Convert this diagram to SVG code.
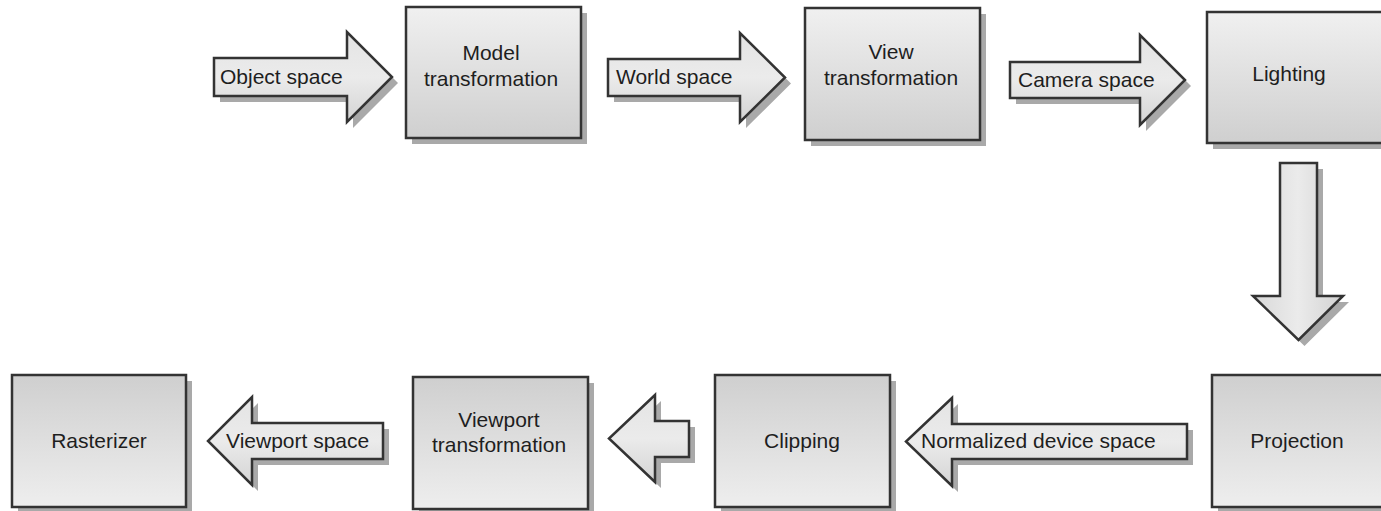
<svg xmlns="http://www.w3.org/2000/svg" width="1381" height="511" viewBox="0 0 1381 511">
  <defs>
    <linearGradient id="gTop" x1="0" y1="0" x2="0" y2="1">
      <stop offset="0" stop-color="#f0f0f0"/>
      <stop offset="1" stop-color="#cfcfcf"/>
    </linearGradient>
    <linearGradient id="gBot" x1="0" y1="0" x2="0" y2="1">
      <stop offset="0" stop-color="#cfcfcf"/>
      <stop offset="1" stop-color="#eeeeee"/>
    </linearGradient>
    <linearGradient id="gArrH" x1="0" y1="0" x2="0" y2="1">
      <stop offset="0" stop-color="#e4e4e4"/>
      <stop offset="0.5" stop-color="#ebebeb"/>
      <stop offset="1" stop-color="#d4d4d4"/>
    </linearGradient>
    <linearGradient id="gArrV" x1="0" y1="0" x2="1" y2="0">
      <stop offset="0" stop-color="#d8d8d8"/>
      <stop offset="0.5" stop-color="#ebebeb"/>
      <stop offset="1" stop-color="#d2d2d2"/>
    </linearGradient>
    <filter id="soft" x="-10%" y="-10%" width="120%" height="120%">
      <feGaussianBlur stdDeviation="0.5"/>
    </filter>
  </defs>
  <style>
    .shadow { fill: #a9a9a9; filter: url(#soft); }
    .boxTop { fill: url(#gTop); stroke: #333333; stroke-width: 2.5; }
    .boxBot { fill: url(#gBot); stroke: #333333; stroke-width: 2.5; }
    .arrH { fill: url(#gArrH); stroke: #333333; stroke-width: 2.5; stroke-linejoin: miter; }
    .arrV { fill: url(#gArrV); stroke: #333333; stroke-width: 2.5; stroke-linejoin: miter; }
    text { font-family: "Liberation Sans", Arial, sans-serif; font-size: 21px; fill: #1e1e1e; }
    .c { text-anchor: middle; }
  </style>
  <rect width="1381" height="511" fill="#ffffff"/>

  <g id="connectors">
    <g id="arrow-object-space">
      <path class="shadow" transform="translate(6,6)" d="M214,58 H347 V32 L392,77 L347,122 V96 H214 Z"/>
      <path class="arrH" d="M214,58 H347 V32 L392,77 L347,122 V96 H214 Z"/>
      <text x="220" y="84">Object space</text>
    </g>
    <g id="arrow-world-space">
      <path class="shadow" transform="translate(6,6)" d="M608,59 H740 V33 L785,77.5 L740,122 V96 H608 Z"/>
      <path class="arrH" d="M608,59 H740 V33 L785,77.5 L740,122 V96 H608 Z"/>
      <text x="616" y="84">World space</text>
    </g>
    <g id="arrow-camera-space">
      <path class="shadow" transform="translate(6,6)" d="M1010,62 H1140 V35 L1185,80 L1140,125 V98 H1010 Z"/>
      <path class="arrH" d="M1010,62 H1140 V35 L1185,80 L1140,125 V98 H1010 Z"/>
      <text x="1018" y="87">Camera space</text>
    </g>
    <g id="arrow-down">
      <path class="shadow" transform="translate(6,6)" d="M1280,163 H1317 V296 H1343 L1298.5,340 L1253,296 H1280 Z"/>
      <path class="arrV" d="M1280,163 H1317 V296 H1343 L1298.5,340 L1253,296 H1280 Z"/>
    </g>
    <g id="arrow-normalized-device-space">
      <path class="shadow" transform="translate(6,6)" d="M1187,424 H952 V398 L906,441.5 L952,486 V459 H1187 Z"/>
      <path class="arrH" d="M1187,424 H952 V398 L906,441.5 L952,486 V459 H1187 Z"/>
      <text x="921" y="448">Normalized device space</text>
    </g>
    <g id="arrow-clip-to-viewport">
      <path class="shadow" transform="translate(6,6)" d="M689,421 H655 V395 L609,438.5 L655,482 V457 H689 Z"/>
      <path class="arrH" d="M689,421 H655 V395 L609,438.5 L655,482 V457 H689 Z"/>
    </g>
    <g id="arrow-viewport-space">
      <path class="shadow" transform="translate(6,6)" d="M383,423 H252 V397 L208,441 L252,485 V459 H383 Z"/>
      <path class="arrH" d="M383,423 H252 V397 L208,441 L252,485 V459 H383 Z"/>
      <text x="226" y="448">Viewport space</text>
    </g>
  </g>

  <g id="node-model">
    <rect class="shadow" x="412" y="13" width="175" height="131"/>
    <rect class="boxTop" x="406" y="7" width="175" height="131"/>
    <text class="c" x="491" y="60">Model</text>
    <text class="c" x="491" y="86">transformation</text>
  </g>
  <g id="node-view">
    <rect class="shadow" x="811" y="14" width="175" height="132"/>
    <rect class="boxTop" x="805" y="8" width="175" height="132"/>
    <text class="c" x="891" y="59">View</text>
    <text class="c" x="891" y="85">transformation</text>
  </g>
  <g id="node-lighting">
    <rect class="shadow" x="1213" y="18" width="175" height="131"/>
    <rect class="boxTop" x="1207" y="12" width="176" height="131"/>
    <text class="c" x="1289" y="81">Lighting</text>
  </g>
  <g id="node-projection">
    <rect class="shadow" x="1218" y="381" width="175" height="132"/>
    <rect class="boxBot" x="1212" y="375" width="176" height="132"/>
    <text class="c" x="1297" y="448">Projection</text>
  </g>
  <g id="node-clipping">
    <rect class="shadow" x="721" y="381" width="175" height="132"/>
    <rect class="boxBot" x="715" y="375" width="175" height="132"/>
    <text class="c" x="802" y="448">Clipping</text>
  </g>
  <g id="node-viewport">
    <rect class="shadow" x="419" y="383" width="175" height="132"/>
    <rect class="boxBot" x="413" y="377" width="175" height="132"/>
    <text class="c" x="499" y="427">Viewport</text>
    <text class="c" x="499" y="452">transformation</text>
  </g>
  <g id="node-rasterizer">
    <rect class="shadow" x="18" y="381" width="174" height="132"/>
    <rect class="boxBot" x="12" y="375" width="174" height="132"/>
    <text class="c" x="99" y="448">Rasterizer</text>
  </g>
</svg>
